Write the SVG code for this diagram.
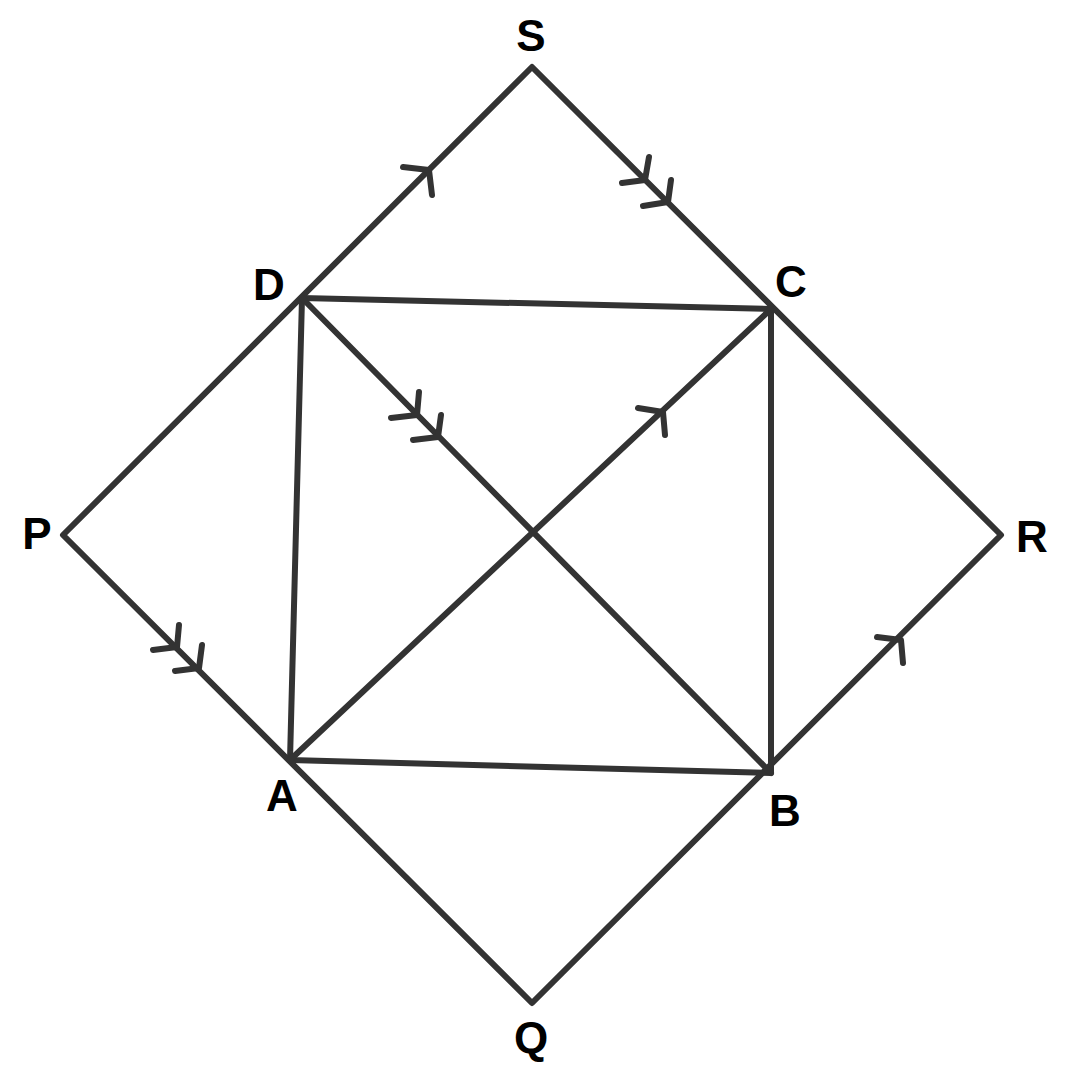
<svg xmlns="http://www.w3.org/2000/svg" width="1070" height="1077" viewBox="0 0 1070 1077">
<style>
.l{stroke:#333;stroke-width:6;fill:none;stroke-linecap:round;stroke-linejoin:round}
.t{font-family:"Liberation Sans",Arial,sans-serif;font-weight:bold;font-size:44px;fill:#000;text-anchor:middle}
</style>
<rect width="1070" height="1077" fill="#fff"/>
<g id="connectors" class="l">
<path d="M532,67 L63,535 L532,1003 L1001,535 Z"/>
<path d="M302,298 L771,309 L771,773 L290,760 Z"/>
<path d="M302,298 L771,773"/>
<path d="M290,760 L771,309"/>
<path d="M403,167 L429,170 L432,195"/>
<path d="M622,183 L645,180 L649,157"/>
<path d="M643,206 L668,202 L671,180"/>
<path d="M391,418 L417,415 L419,392"/>
<path d="M413,440 L438,437 L441,415"/>
<path d="M638,408 L663,412 L665,435"/>
<path d="M153,650 L177,647 L179,625"/>
<path d="M175,671 L199,668 L202,645"/>
<path d="M877,637 L901,640 L903,663"/>
</g>
<g id="S"><text class="t" x="531" y="51">S</text></g>
<g id="D"><text class="t" x="269" y="300">D</text></g>
<g id="C"><text class="t" x="791" y="297">C</text></g>
<g id="P"><text class="t" x="37" y="549">P</text></g>
<g id="R"><text class="t" x="1032" y="552">R</text></g>
<g id="A"><text class="t" x="282" y="811">A</text></g>
<g id="B"><text class="t" x="785" y="826">B</text></g>
<g id="Q"><text class="t" x="531" y="1053">Q</text></g>
</svg>
